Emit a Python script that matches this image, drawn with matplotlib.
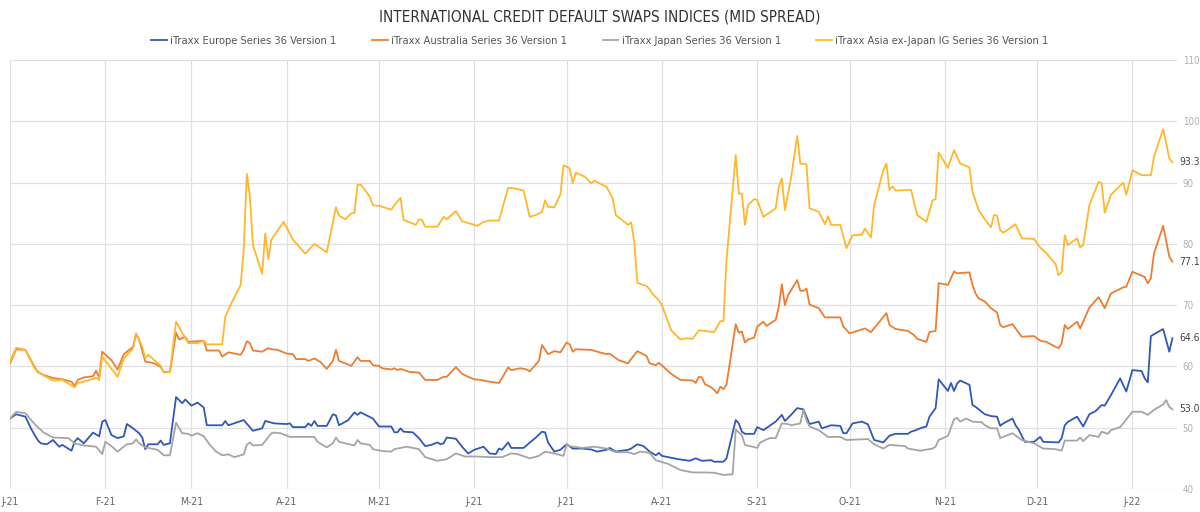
import matplotlib.pyplot as plt
import pandas as pd

# mid spreads (bp), (date, value)
europe = [
    ('2021-01-01', 51.5), ('2021-01-03', 52.2), ('2021-01-06', 51.8), ('2021-01-08', 49.7), ('2021-01-10', 48.0),
    ('2021-01-11', 47.45), ('2021-01-13', 47.3), ('2021-01-15', 48.0), ('2021-01-17', 46.9), ('2021-01-18', 47.2),
    ('2021-01-21', 46.25), ('2021-01-22', 47.7), ('2021-01-23', 48.3), ('2021-01-25', 47.45), ('2021-01-28', 49.2),
    ('2021-01-30', 48.6), ('2021-01-31', 51.0), ('2021-02-01', 51.25), ('2021-02-03', 48.8), ('2021-02-05', 48.3),
    ('2021-02-07', 48.6), ('2021-02-08', 50.6), ('2021-02-10', 49.9), ('2021-02-12', 49.1), ('2021-02-13', 48.4),
    ('2021-02-14', 46.5), ('2021-02-15', 47.3), ('2021-02-18', 47.3), ('2021-02-19', 47.9), ('2021-02-20', 47.2),
    ('2021-02-22', 47.45), ('2021-02-24', 55.0), ('2021-02-26', 54.0), ('2021-02-27', 54.6), ('2021-03-01', 53.6),
    ('2021-03-03', 54.1), ('2021-03-05', 53.3), ('2021-03-06', 50.4), ('2021-03-11', 50.4), ('2021-03-12', 51.1),
    ('2021-03-13', 50.4), ('2021-03-18', 51.25), ('2021-03-21', 49.5), ('2021-03-24', 49.9), ('2021-03-25', 51.1),
    ('2021-03-28', 50.7), ('2021-04-01', 50.6), ('2021-04-02', 50.7), ('2021-04-03', 50.1), ('2021-04-07', 50.1),
    ('2021-04-08', 50.7), ('2021-04-09', 50.3), ('2021-04-10', 51.1), ('2021-04-11', 50.3), ('2021-04-14', 50.3),
    ('2021-04-16', 52.2), ('2021-04-17', 52.0), ('2021-04-18', 50.4), ('2021-04-21', 51.25), ('2021-04-23', 52.5),
    ('2021-04-24', 52.1), ('2021-04-25', 52.5), ('2021-04-29', 51.5), ('2021-05-01', 50.2), ('2021-05-05', 50.2),
    ('2021-05-06', 49.25), ('2021-05-07', 49.25), ('2021-05-08', 49.9), ('2021-05-09', 49.35), ('2021-05-12', 49.25),
    ('2021-05-14', 48.3), ('2021-05-16', 47.0), ('2021-05-18', 47.2), ('2021-05-20', 47.6), ('2021-05-21', 47.3),
    ('2021-05-22', 47.45), ('2021-05-23', 48.4), ('2021-05-26', 48.2), ('2021-05-28', 46.9), ('2021-05-30', 45.8),
    ('2021-06-01', 46.4), ('2021-06-04', 46.9), ('2021-06-06', 45.8), ('2021-06-08', 45.7), ('2021-06-09', 46.6),
    ('2021-06-10', 46.4), ('2021-06-12', 47.6), ('2021-06-13', 46.7), ('2021-06-17', 46.7), ('2021-06-19', 47.55),
    ('2021-06-21', 48.4), ('2021-06-23', 49.35), ('2021-06-24', 49.25), ('2021-06-25', 47.55), ('2021-06-27', 46.1),
    ('2021-06-29', 46.4), ('2021-07-01', 47.3), ('2021-07-03', 46.6), ('2021-07-06', 46.6), ('2021-07-09', 46.45),
    ('2021-07-11', 46.1), ('2021-07-14', 46.4), ('2021-07-15', 46.7), ('2021-07-17', 46.1), ('2021-07-21', 46.4),
    ('2021-07-22', 46.6), ('2021-07-24', 47.3), ('2021-07-26', 47.0), ('2021-07-28', 46.1), ('2021-07-30', 45.5),
    ('2021-07-31', 45.9), ('2021-08-01', 45.4), ('2021-08-03', 45.2), ('2021-08-06', 44.9), ('2021-08-10', 44.6),
    ('2021-08-12', 45.0), ('2021-08-14', 44.6), ('2021-08-17', 44.7), ('2021-08-18', 44.45), ('2021-08-21', 44.45),
    ('2021-08-22', 45.0), ('2021-08-25', 51.25), ('2021-08-26', 50.7), ('2021-08-27', 49.35), ('2021-08-28', 49.0),
    ('2021-08-31', 49.0), ('2021-09-01', 50.1), ('2021-09-03', 49.6), ('2021-09-05', 50.3), ('2021-09-07', 51.0),
    ('2021-09-09', 52.1), ('2021-09-10', 51.1), ('2021-09-12', 52.1), ('2021-09-14', 53.2), ('2021-09-16', 53.0),
    ('2021-09-18', 50.6), ('2021-09-21', 51.0), ('2021-09-22', 49.9), ('2021-09-25', 50.4), ('2021-09-28', 50.3),
    ('2021-09-29', 49.1), ('2021-09-30', 49.1), ('2021-10-02', 50.7), ('2021-10-05', 51.0), ('2021-10-07', 50.55),
    ('2021-10-09', 48.0), ('2021-10-12', 47.6), ('2021-10-14', 48.7), ('2021-10-16', 49.0), ('2021-10-20', 49.0),
    ('2021-10-21', 49.35), ('2021-10-22', 49.5), ('2021-10-24', 49.9), ('2021-10-26', 50.2), ('2021-10-27', 51.8),
    ('2021-10-29', 53.2), ('2021-10-30', 57.9), ('2021-11-02', 56.0), ('2021-11-03', 57.3), ('2021-11-04', 56.0),
    ('2021-11-05', 57.2), ('2021-11-06', 57.7), ('2021-11-09', 57.0), ('2021-11-10', 53.7), ('2021-11-11', 53.4),
    ('2021-11-13', 52.6), ('2021-11-14', 52.2), ('2021-11-16', 51.9), ('2021-11-18', 51.8), ('2021-11-19', 50.3),
    ('2021-11-20', 50.7), ('2021-11-23', 51.5), ('2021-11-24', 50.4), ('2021-11-25', 49.7), ('2021-11-27', 47.7),
    ('2021-11-30', 47.7), ('2021-12-02', 48.5), ('2021-12-03', 47.7), ('2021-12-08', 47.6), ('2021-12-09', 48.3),
    ('2021-12-10', 50.4), ('2021-12-11', 50.95), ('2021-12-14', 51.8), ('2021-12-16', 50.2), ('2021-12-18', 52.2),
    ('2021-12-20', 52.7), ('2021-12-22', 53.7), ('2021-12-23', 53.6), ('2021-12-25', 55.3), ('2021-12-28', 58.05),
    ('2021-12-30', 55.9), ('2022-01-01', 59.4), ('2022-01-04', 59.25), ('2022-01-05', 58.05), ('2022-01-06', 57.4),
    ('2022-01-07', 64.95), ('2022-01-11', 66.1), ('2022-01-13', 62.4), ('2022-01-14', 64.6),
]

australia = [
    ('2021-01-01', 60.5), ('2021-01-03', 62.8), ('2021-01-06', 62.7), ('2021-01-09', 59.9), ('2021-01-10', 59.1),
    ('2021-01-12', 58.6), ('2021-01-15', 58.1), ('2021-01-18', 57.9), ('2021-01-21', 57.5), ('2021-01-22', 56.8),
    ('2021-01-23', 57.8), ('2021-01-25', 58.2), ('2021-01-28', 58.4), ('2021-01-29', 59.3), ('2021-01-30', 58.2),
    ('2021-01-31', 62.4), ('2021-02-03', 61.0), ('2021-02-05', 59.5), ('2021-02-07', 62.0), ('2021-02-10', 63.2),
    ('2021-02-11', 65.3), ('2021-02-12', 64.3), ('2021-02-14', 60.8), ('2021-02-17', 60.5), ('2021-02-19', 59.9),
    ('2021-02-20', 59.1), ('2021-02-22', 59.1), ('2021-02-24', 65.5), ('2021-02-25', 64.4), ('2021-02-27', 64.8),
    ('2021-02-28', 64.0), ('2021-03-05', 64.2), ('2021-03-06', 62.6), ('2021-03-10', 62.6), ('2021-03-11', 61.6),
    ('2021-03-13', 62.3), ('2021-03-17', 61.9), ('2021-03-18', 62.7), ('2021-03-19', 64.1), ('2021-03-20', 63.8),
    ('2021-03-21', 62.6), ('2021-03-24', 62.4), ('2021-03-26', 63.0), ('2021-03-27', 62.8), ('2021-03-29', 62.7),
    ('2021-04-01', 62.1), ('2021-04-03', 62.0), ('2021-04-04', 61.2), ('2021-04-07', 61.2), ('2021-04-08', 60.9),
    ('2021-04-10', 61.3), ('2021-04-12', 60.7), ('2021-04-14', 59.6), ('2021-04-16', 60.9), ('2021-04-17', 62.7),
    ('2021-04-18', 60.9), ('2021-04-22', 60.1), ('2021-04-24', 61.5), ('2021-04-25', 60.9), ('2021-04-28', 60.9),
    ('2021-04-29', 60.2), ('2021-05-01', 60.1), ('2021-05-02', 59.7), ('2021-05-05', 59.5), ('2021-05-06', 59.7),
    ('2021-05-07', 59.4), ('2021-05-08', 59.6), ('2021-05-11', 59.1), ('2021-05-14', 59.0), ('2021-05-16', 57.8),
    ('2021-05-20', 57.8), ('2021-05-22', 58.3), ('2021-05-23', 58.3), ('2021-05-26', 59.9), ('2021-05-28', 58.8),
    ('2021-05-30', 58.3), ('2021-06-01', 57.9), ('2021-06-03', 57.8), ('2021-06-06', 57.5), ('2021-06-09', 57.3),
    ('2021-06-10', 58.1), ('2021-06-12', 59.85), ('2021-06-13', 59.4), ('2021-06-16', 59.7), ('2021-06-18', 59.5),
    ('2021-06-19', 59.2), ('2021-06-22', 60.9), ('2021-06-23', 63.5), ('2021-06-25', 62.0), ('2021-06-27', 62.5),
    ('2021-06-29', 62.3), ('2021-07-01', 63.9), ('2021-07-02', 63.6), ('2021-07-03', 62.4), ('2021-07-04', 62.8),
    ('2021-07-09', 62.7), ('2021-07-11', 62.4), ('2021-07-14', 62.0), ('2021-07-15', 62.1), ('2021-07-18', 61.0),
    ('2021-07-21', 60.5), ('2021-07-22', 61.2), ('2021-07-24', 62.5), ('2021-07-27', 61.7), ('2021-07-28', 60.5),
    ('2021-07-30', 60.2), ('2021-07-31', 60.6), ('2021-08-04', 58.8), ('2021-08-07', 57.8), ('2021-08-11', 57.7),
    ('2021-08-12', 57.3), ('2021-08-13', 58.3), ('2021-08-14', 58.2), ('2021-08-15', 57.1), ('2021-08-17', 56.6),
    ('2021-08-18', 56.15), ('2021-08-19', 55.6), ('2021-08-20', 56.7), ('2021-08-21', 56.3), ('2021-08-22', 57.0),
    ('2021-08-25', 66.9), ('2021-08-26', 65.5), ('2021-08-27', 65.7), ('2021-08-28', 63.9), ('2021-08-29', 64.4),
    ('2021-08-31', 64.7), ('2021-09-01', 66.5), ('2021-09-03', 67.3), ('2021-09-04', 66.6), ('2021-09-07', 67.6),
    ('2021-09-08', 69.7), ('2021-09-09', 73.4), ('2021-09-10', 70.0), ('2021-09-11', 71.6), ('2021-09-14', 74.1),
    ('2021-09-15', 72.35), ('2021-09-16', 72.35), ('2021-09-17', 72.7), ('2021-09-18', 70.1), ('2021-09-21', 69.5),
    ('2021-09-23', 68.0), ('2021-09-28', 68.0), ('2021-09-29', 66.5), ('2021-10-01', 65.4), ('2021-10-03', 65.7),
    ('2021-10-06', 66.2), ('2021-10-08', 65.6), ('2021-10-13', 68.7), ('2021-10-14', 66.75), ('2021-10-16', 66.1),
    ('2021-10-20', 65.8), ('2021-10-22', 65.1), ('2021-10-23', 64.5), ('2021-10-26', 64.0), ('2021-10-27', 65.6),
    ('2021-10-29', 65.8), ('2021-10-30', 73.6), ('2021-11-02', 73.3), ('2021-11-04', 75.5), ('2021-11-05', 75.2),
    ('2021-11-09', 75.35), ('2021-11-10', 73.3), ('2021-11-11', 71.9), ('2021-11-12', 71.1), ('2021-11-14', 70.6),
    ('2021-11-16', 69.5), ('2021-11-18', 68.8), ('2021-11-19', 66.75), ('2021-11-20', 66.4), ('2021-11-23', 66.9),
    ('2021-11-24', 66.2), ('2021-11-26', 64.85), ('2021-11-30', 64.95), ('2021-12-02', 64.2), ('2021-12-04', 64.0),
    ('2021-12-08', 62.95), ('2021-12-09', 63.8), ('2021-12-10', 66.75), ('2021-12-11', 66.1), ('2021-12-14', 67.3),
    ('2021-12-15', 66.2), ('2021-12-16', 67.3), ('2021-12-18', 69.6), ('2021-12-21', 71.3), ('2021-12-23', 69.5),
    ('2021-12-25', 71.9), ('2021-12-29', 72.9), ('2021-12-30', 73.0), ('2022-01-01', 75.45), ('2022-01-05', 74.6),
    ('2022-01-06', 73.55), ('2022-01-07', 74.4), ('2022-01-08', 78.4), ('2022-01-11', 82.95), ('2022-01-13', 77.9),
    ('2022-01-14', 77.1),
]

japan = [
    ('2021-01-01', 51.5), ('2021-01-03', 52.6), ('2021-01-06', 52.35), ('2021-01-09', 50.6), ('2021-01-10', 50.1),
    ('2021-01-12', 49.2), ('2021-01-15', 48.4), ('2021-01-20', 48.3), ('2021-01-22', 47.45), ('2021-01-25', 47.1),
    ('2021-01-29', 46.9), ('2021-01-31', 45.7), ('2021-02-01', 47.7), ('2021-02-03', 47.0), ('2021-02-05', 46.1),
    ('2021-02-08', 47.3), ('2021-02-10', 47.45), ('2021-02-11', 48.1), ('2021-02-12', 47.45), ('2021-02-14', 46.8),
    ('2021-02-18', 46.4), ('2021-02-20', 45.5), ('2021-02-22', 45.5), ('2021-02-24', 50.8), ('2021-02-26', 49.1),
    ('2021-02-28', 49.0), ('2021-03-01', 48.7), ('2021-03-03', 49.1), ('2021-03-05', 48.6), ('2021-03-07', 47.2),
    ('2021-03-09', 46.1), ('2021-03-11', 45.5), ('2021-03-13', 45.65), ('2021-03-15', 45.2), ('2021-03-18', 45.65),
    ('2021-03-19', 47.2), ('2021-03-20', 47.6), ('2021-03-21', 47.1), ('2021-03-24', 47.2), ('2021-03-27', 49.1),
    ('2021-03-28', 49.2), ('2021-03-30', 49.1), ('2021-04-02', 48.5), ('2021-04-10', 48.5), ('2021-04-11', 47.7),
    ('2021-04-14', 46.8), ('2021-04-16', 47.45), ('2021-04-17', 48.4), ('2021-04-18', 47.7), ('2021-04-23', 47.1),
    ('2021-04-24', 48.0), ('2021-04-25', 47.45), ('2021-04-28', 47.2), ('2021-04-29', 46.5), ('2021-05-02', 46.2),
    ('2021-05-05', 46.1), ('2021-05-06', 46.5), ('2021-05-08', 46.7), ('2021-05-10', 46.9), ('2021-05-14', 46.5),
    ('2021-05-16', 45.2), ('2021-05-20', 44.6), ('2021-05-23', 44.85), ('2021-05-26', 45.8), ('2021-05-29', 45.3),
    ('2021-06-02', 45.3), ('2021-06-06', 45.2), ('2021-06-10', 45.2), ('2021-06-13', 45.8), ('2021-06-15', 45.7),
    ('2021-06-19', 45.0), ('2021-06-22', 45.4), ('2021-06-24', 46.1), ('2021-06-27', 45.8), ('2021-06-30', 45.4),
    ('2021-07-01', 47.3), ('2021-07-02', 47.0), ('2021-07-06', 46.7), ('2021-07-10', 46.9), ('2021-07-14', 46.6),
    ('2021-07-17', 46.0), ('2021-07-21', 46.0), ('2021-07-23', 45.7), ('2021-07-25', 46.1), ('2021-07-28', 45.9),
    ('2021-07-30', 44.7), ('2021-08-03', 44.1), ('2021-08-07', 43.1), ('2021-08-11', 42.7), ('2021-08-15', 42.7),
    ('2021-08-18', 42.65), ('2021-08-21', 42.3), ('2021-08-24', 42.4), ('2021-08-25', 49.7), ('2021-08-27', 48.8),
    ('2021-08-28', 47.2), ('2021-09-01', 46.7), ('2021-09-02', 47.6), ('2021-09-05', 48.3), ('2021-09-07', 48.3),
    ('2021-09-09', 50.7), ('2021-09-11', 50.6), ('2021-09-12', 50.4), ('2021-09-15', 50.7), ('2021-09-16', 52.9),
    ('2021-09-17', 51.25), ('2021-09-18', 50.2), ('2021-09-21', 49.6), ('2021-09-24', 48.5), ('2021-09-28', 48.5),
    ('2021-09-30', 48.0), ('2021-10-07', 48.15), ('2021-10-09', 47.3), ('2021-10-12', 46.6), ('2021-10-14', 47.2),
    ('2021-10-19', 47.0), ('2021-10-20', 46.6), ('2021-10-24', 46.25), ('2021-10-28', 46.6), ('2021-10-29', 46.9),
    ('2021-10-30', 48.0), ('2021-11-02', 48.65), ('2021-11-04', 51.4), ('2021-11-05', 51.6), ('2021-11-06', 51.0),
    ('2021-11-08', 51.5), ('2021-11-10', 51.0), ('2021-11-13', 50.9), ('2021-11-14', 50.4), ('2021-11-16', 49.9),
    ('2021-11-18', 49.9), ('2021-11-19', 48.3), ('2021-11-23', 49.1), ('2021-11-26', 48.0), ('2021-11-30', 47.45),
    ('2021-12-03', 46.6), ('2021-12-07', 46.5), ('2021-12-09', 46.25), ('2021-12-10', 47.9), ('2021-12-14', 47.9),
    ('2021-12-15', 48.4), ('2021-12-16', 47.8), ('2021-12-18', 48.8), ('2021-12-21', 48.5), ('2021-12-22', 49.35),
    ('2021-12-24', 49.0), ('2021-12-25', 49.6), ('2021-12-28', 50.1), ('2022-01-01', 52.6), ('2022-01-04', 52.6),
    ('2022-01-06', 52.1), ('2022-01-08', 52.9), ('2022-01-11', 53.8), ('2022-01-12', 54.5), ('2022-01-13', 53.4),
    ('2022-01-14', 53.0),
]

asia = [
    ('2021-01-01', 60.8), ('2021-01-03', 63.05), ('2021-01-06', 62.7), ('2021-01-09', 59.7), ('2021-01-11', 58.8),
    ('2021-01-15', 57.7), ('2021-01-18', 57.8), ('2021-01-20', 57.2), ('2021-01-22', 56.6), ('2021-01-23', 57.3),
    ('2021-01-25', 57.5), ('2021-01-29', 58.15), ('2021-01-30', 57.8), ('2021-01-31', 61.6), ('2021-02-05', 58.3),
    ('2021-02-07', 61.3), ('2021-02-10', 62.95), ('2021-02-11', 65.4), ('2021-02-13', 63.2), ('2021-02-14', 61.3),
    ('2021-02-15', 61.9), ('2021-02-19', 60.1), ('2021-02-20', 59.0), ('2021-02-22', 59.1), ('2021-02-24', 67.3),
    ('2021-02-26', 65.5), ('2021-02-28', 63.8), ('2021-03-03', 63.8), ('2021-03-05', 64.2), ('2021-03-06', 63.6),
    ('2021-03-11', 63.6), ('2021-03-12', 68.1), ('2021-03-14', 70.3), ('2021-03-17', 73.3), ('2021-03-18', 79.0),
    ('2021-03-19', 91.4), ('2021-03-20', 87.7), ('2021-03-21', 79.8), ('2021-03-24', 75.1), ('2021-03-25', 81.7),
    ('2021-03-26', 77.5), ('2021-03-27', 80.7), ('2021-03-31', 83.6), ('2021-04-03', 80.7), ('2021-04-07', 78.4),
    ('2021-04-10', 80.0), ('2021-04-14', 78.6), ('2021-04-17', 85.95), ('2021-04-18', 84.6), ('2021-04-20', 84.0),
    ('2021-04-22', 85.0), ('2021-04-23', 85.0), ('2021-04-24', 89.6), ('2021-04-25', 89.7), ('2021-04-28', 87.7),
    ('2021-04-29', 86.3), ('2021-05-01', 86.2), ('2021-05-05', 85.6), ('2021-05-06', 86.3), ('2021-05-08', 87.5),
    ('2021-05-09', 83.9), ('2021-05-13', 83.1), ('2021-05-14', 84.0), ('2021-05-15', 83.9), ('2021-05-16', 82.8),
    ('2021-05-20', 82.8), ('2021-05-22', 84.4), ('2021-05-23', 84.0), ('2021-05-26', 85.35), ('2021-05-28', 83.7),
    ('2021-06-02', 82.95), ('2021-06-04', 83.6), ('2021-06-06', 83.8), ('2021-06-09', 83.8), ('2021-06-12', 89.15),
    ('2021-06-14', 89.05), ('2021-06-17', 88.7), ('2021-06-19', 84.4), ('2021-06-21', 84.7), ('2021-06-23', 85.2),
    ('2021-06-24', 87.1), ('2021-06-25', 86.05), ('2021-06-27', 85.95), ('2021-06-29', 88.1), ('2021-06-30', 92.85),
    ('2021-07-02', 92.3), ('2021-07-03', 89.9), ('2021-07-04', 91.6), ('2021-07-07', 90.95), ('2021-07-09', 89.9),
    ('2021-07-10', 90.3), ('2021-07-14', 89.3), ('2021-07-16', 87.4), ('2021-07-17', 84.7), ('2021-07-21', 83.1),
    ('2021-07-22', 83.5), ('2021-07-23', 80.3), ('2021-07-24', 73.65), ('2021-07-27', 73.1), ('2021-07-28', 72.6),
    ('2021-07-29', 71.8), ('2021-07-31', 70.8), ('2021-08-01', 70.0), ('2021-08-04', 65.9), ('2021-08-07', 64.4),
    ('2021-08-09', 64.6), ('2021-08-11', 64.5), ('2021-08-13', 65.9), ('2021-08-15', 65.8), ('2021-08-18', 65.6),
    ('2021-08-20', 67.4), ('2021-08-21', 67.4), ('2021-08-22', 77.35), ('2021-08-25', 94.5), ('2021-08-26', 88.2),
    ('2021-08-27', 88.2), ('2021-08-28', 83.1), ('2021-08-29', 86.3), ('2021-08-31', 87.3), ('2021-09-01', 87.15),
    ('2021-09-03', 84.4), ('2021-09-07', 85.8), ('2021-09-08', 89.3), ('2021-09-09', 90.7), ('2021-09-10', 85.5),
    ('2021-09-12', 90.8), ('2021-09-14', 97.6), ('2021-09-15', 93.1), ('2021-09-17', 93.0), ('2021-09-18', 85.8),
    ('2021-09-21', 85.25), ('2021-09-23', 83.2), ('2021-09-24', 84.5), ('2021-09-25', 83.1), ('2021-09-28', 83.1),
    ('2021-09-30', 79.3), ('2021-10-02', 81.4), ('2021-10-05', 81.5), ('2021-10-06', 82.5), ('2021-10-08', 81.05),
    ('2021-10-09', 86.3), ('2021-10-12', 92.05), ('2021-10-13', 93.1), ('2021-10-14', 88.8), ('2021-10-15', 89.4),
    ('2021-10-16', 88.7), ('2021-10-20', 88.8), ('2021-10-21', 88.8), ('2021-10-23', 84.7), ('2021-10-26', 83.6),
    ('2021-10-28', 87.1), ('2021-10-29', 87.3), ('2021-10-30', 94.9), ('2021-11-02', 92.4), ('2021-11-04', 95.3),
    ('2021-11-06', 93.1), ('2021-11-09', 92.5), ('2021-11-10', 88.5), ('2021-11-12', 85.5), ('2021-11-14', 84.0),
    ('2021-11-16', 82.7), ('2021-11-17', 84.7), ('2021-11-18', 84.6), ('2021-11-19', 82.25), ('2021-11-20', 81.8),
    ('2021-11-24', 83.2), ('2021-11-26', 80.9), ('2021-11-30', 80.8), ('2021-12-02', 79.4), ('2021-12-04', 78.5),
    ('2021-12-07', 76.7), ('2021-12-08', 74.9), ('2021-12-09', 75.45), ('2021-12-10', 81.4), ('2021-12-11', 79.8),
    ('2021-12-14', 80.9), ('2021-12-15', 79.4), ('2021-12-16', 79.8), ('2021-12-18', 86.3), ('2021-12-21', 90.1),
    ('2021-12-22', 89.9), ('2021-12-23', 85.1), ('2021-12-25', 88.0), ('2021-12-29', 90.0), ('2021-12-30', 88.0),
    ('2022-01-01', 92.0), ('2022-01-04', 91.2), ('2022-01-07', 91.2), ('2022-01-08', 94.2), ('2022-01-11', 98.7),
    ('2022-01-12', 96.4), ('2022-01-13', 93.95), ('2022-01-14', 93.3),
]

series_names = ['iTraxx Europe Series 36 Version 1', 'iTraxx Australia Series 36 Version 1',
                'iTraxx Japan Series 36 Version 1', 'iTraxx Asia ex-Japan IG Series 36 Version 1']
series_colors = ['#3158B8', '#ED7D31', '#A5A5A5', '#FFB72B']

month_labels = ['J-21', 'F-21', 'M-21', 'A-21', 'M-21', 'J-21', 'J-21', 'A-21',
                'S-21', 'O-21', 'N-21', 'D-21', 'J-22']
y_ticks = [40, 50, 60, 70, 80, 90, 100, 110]

# narrow look like the original (falls back to DejaVu if no condensed face)
plt.rcParams['font.family'] = ['DejaVu Sans']
plt.rcParams['font.stretch'] = 'condensed'

fig = plt.figure(figsize=(12, 5.12), dpi=100)
ax = fig.add_axes([10 / 1200, 23 / 512, 1167 / 1200, 429 / 512])

for data, name, color in zip([europe, australia, japan, asia], series_names, series_colors):
    dates = pd.to_datetime([d for d, v in data])
    vals = [v for d, v in data]
    ax.plot(dates, vals, color=color, lw=1.3, label=name)
    # last value label
    ax.annotate(f'{vals[-1]:.1f}', (dates[-1], vals[-1]), xytext=(5, 0),
                textcoords='offset points', va='center', ha='left',
                fontsize=7.5, color='#444444', annotation_clip=False)

ax.set_ylim(40, 110)
ax.set_xlim(pd.Timestamp('2021-01-01'), pd.Timestamp('2022-01-15 12:00'))
ax.set_yticks(y_ticks)
ax.set_xticks(pd.date_range('2021-01-01', '2022-01-01', freq='MS'))
ax.set_xticklabels(month_labels)
ax.yaxis.tick_right()
ax.tick_params(axis='y', length=0, pad=4, labelsize=7, labelcolor='#b0b0b0')
ax.tick_params(axis='x', length=0, pad=6, labelsize=7.5, labelcolor='#666666')
for s in ax.spines.values():
    s.set_visible(False)
ax.grid(True, color='#e0e0e0', lw=0.9)
ax.set_axisbelow(True)

fig.text(0.5, 1 - 17 / 512, 'INTERNATIONAL CREDIT DEFAULT SWAPS INDICES (MID SPREAD)',
         ha='center', va='center', fontsize=11, color='#333333')

fig.legend(loc='center', bbox_to_anchor=(0.5, 1 - 41 / 512), ncol=4, frameon=False,
           fontsize=8, handlelength=1.4, handletextpad=0.3, columnspacing=3.2,
           labelcolor='#555555')

fig.savefig('out.png', dpi=100)
